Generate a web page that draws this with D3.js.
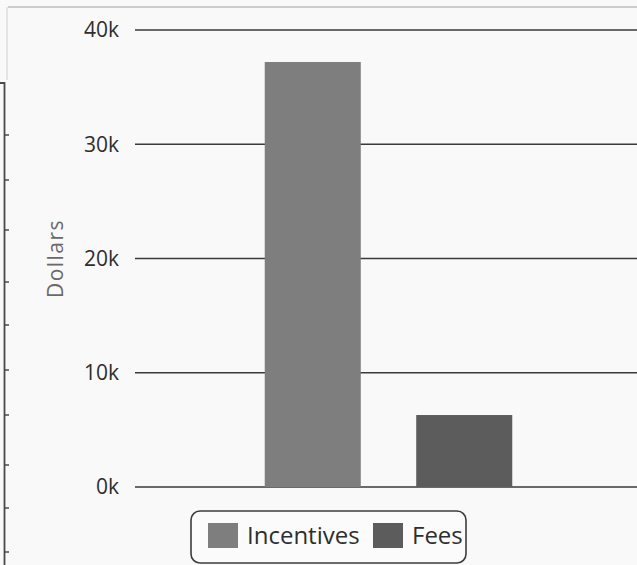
<!DOCTYPE html>
<html>
<head>
    <meta charset="utf-8">
    <title>Incentives and Fees</title>
    <script type="text/javascript" src="https://cdn.jsdelivr.net/npm/d3@7"></script>
    <style type="text/css">
        html, body {
            margin: 0;
            background: #f9f9f9;
        }

        svg {
            display: block;
            font-family: "Open Sans", "DejaVu Sans", sans-serif;
        }

        .grid line {
            stroke: #3a3a3a;
            stroke-width: 1.6;
        }

        .tick-label {
            fill: #2e2e2e;
            font-size: 21px;
        }
    </style>
</head>

<body>

<script type="text/javascript">
    var categories = ["Incentives", "Fees"];
    var values = [37200, 6300];
    var colors = ["#7e7e7e", "#5c5c5c"];
    var yTicks = [0, 10000, 20000, 30000, 40000];
    var yTickLabels = ["0k", "10k", "20k", "30k", "40k"];
    var axisTitle = "Dollars";
    // marks on the neighbouring panel that shows at the left edge
    var edgeTicks = [135, 180, 230, 282, 325, 370, 415, 465, 508, 552];

    var w = 637, h = 565;

    var svg = d3.select("body")
            .append("svg")
                .attr("width", w)
                .attr("height", h);

    var y = d3.scaleLinear()
            .domain([0, 40000])
            .range([487, 30]);

    var x = d3.scaleBand()
            .domain(categories)
            .range([189, 588])
            .paddingInner(0.366)
            .paddingOuter(0.5);

    // frame of the panel
    svg.append("line")
        .attr("x1", 8).attr("x2", w)
        .attr("y1", 7).attr("y2", 7)
        .style("stroke", "#bdbdbd")
        .style("stroke-width", 1.5);
    svg.append("line")
        .attr("x1", 7).attr("x2", 7)
        .attr("y1", 7).attr("y2", 80)
        .style("stroke", "#d6d6d6")
        .style("stroke-width", 1.2);

    // left edge of the neighbouring panel
    svg.append("path")
        .attr("d", "M0,83H4.5V" + h)
        .style("fill", "none")
        .style("stroke", "#4a4a4a")
        .style("stroke-width", 1.8);
    svg.selectAll(".edge-tick")
            .data(edgeTicks)
        .enter().append("line")
        .attr("class", "edge-tick")
        .attr("x1", 4).attr("x2", 9)
        .attr("y1", function (d) {return d;})
        .attr("y2", function (d) {return d;})
        .style("stroke", "#4a4a4a")
        .style("stroke-width", 1.5);

    // grid lines
    var grid = svg.append("g").attr("class", "grid");
    grid.selectAll("line")
            .data(yTicks)
        .enter().append("line")
        .attr("x1", 135)
        .attr("x2", w)
        .attr("y1", function (d) {return y(d);})
        .attr("y2", function (d) {return y(d);});

    svg.selectAll(".tick-label")
            .data(yTicks)
        .enter().append("text")
        .attr("class", "tick-label")
        .attr("x", 119)
        .attr("y", function (d) {return y(d);})
        .attr("dy", "0.35em")
        .attr("text-anchor", "end")
        .text(function (d, i) {return yTickLabels[i];});

    svg.append("text")
        .attr("transform", "translate(63," + y(20000) + ") rotate(-90)")
        .attr("text-anchor", "middle")
        .style("fill", "#6a6a6a")
        .style("font-size", "21px")
        .style("letter-spacing", "1.5px")
        .text(axisTitle);

    // bars
    svg.selectAll(".bar")
            .data(values)
        .enter().append("rect")
        .attr("class", "bar")
        .attr("x", function (d, i) {return x(categories[i]);})
        .attr("width", x.bandwidth())
        .attr("y", function (d) {return y(d);})
        .attr("height", function (d) {return y(0) - y(d);})
        .style("fill", function (d, i) {return colors[i];});

    // legend
    var legend = svg.append("g");
    legend.append("rect")
        .attr("x", 191).attr("y", 511)
        .attr("width", 275).attr("height", 52)
        .attr("rx", 9)
        .style("fill", "#fbfbfb")
        .style("stroke", "#3c3c3c")
        .style("stroke-width", 1.6);

    var legendX = [208, 373];
    var item = legend.selectAll(".item")
            .data(categories)
        .enter().append("g")
        .attr("class", "item")
        .attr("transform", function (d, i) {return "translate(" + legendX[i] + ",523)";});

    item.append("rect")
        .attr("width", 30)
        .attr("height", 25)
        .style("fill", function (d, i) {return colors[i];});

    item.append("text")
        .attr("x", 39)
        .attr("y", 13)
        .attr("dy", "0.35em")
        .style("fill", "#2e2e2e")
        .style("font-size", "24px")
        .text(function (d) {return d;});
</script>

</body>

</html>
